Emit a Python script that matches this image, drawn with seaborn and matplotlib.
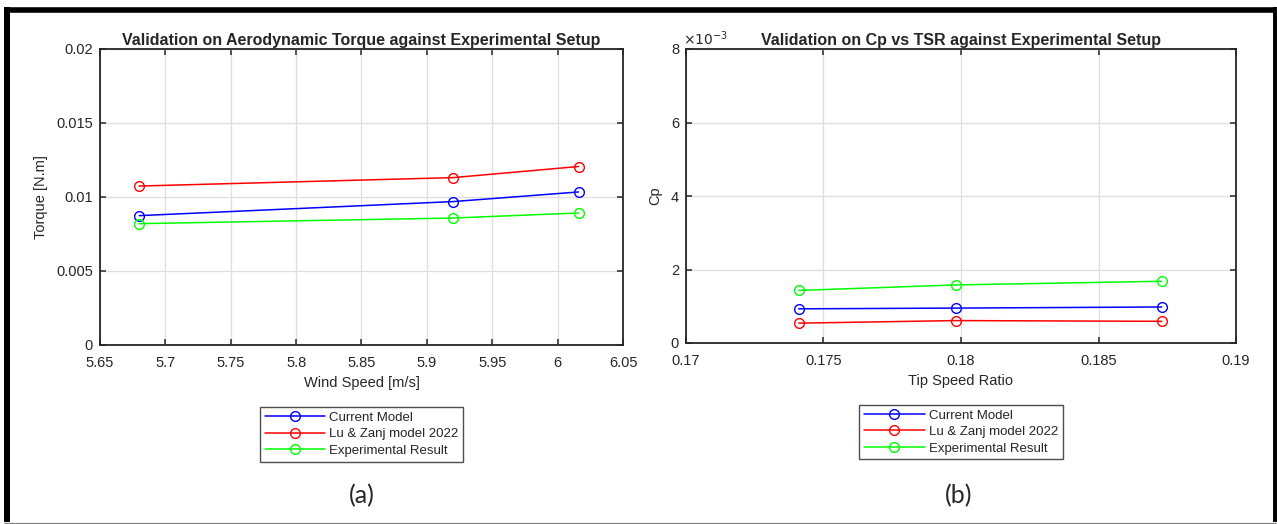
import matplotlib
matplotlib.use("Agg")
import matplotlib.pyplot as plt
import seaborn as sns
from matplotlib.lines import Line2D
from matplotlib.ticker import FuncFormatter

# ---- data ----
series_names = ["Current Model", "Lu & Zanj model 2022", "Experimental Result"]
series_colors = ["#0000ff", "#ff0000", "#00ff00"]

wind_speed = [5.68, 5.92, 6.016]
torque_current = [0.00874, 0.00969, 0.01034]
torque_luzanj = [0.01074, 0.01131, 0.01206]
torque_exp = [0.00820, 0.00858, 0.00892]

tsr = [0.1741, 0.1798, 0.1873]
cp_current = [0.93e-3, 0.95e-3, 0.98e-3]
cp_luzanj = [0.54e-3, 0.61e-3, 0.59e-3]
cp_exp = [1.43e-3, 1.58e-3, 1.68e-3]

torque_xticks = [5.65, 5.7, 5.75, 5.8, 5.85, 5.9, 5.95, 6.0, 6.05]
torque_yticks = [0, 0.005, 0.01, 0.015, 0.02]
cp_xticks = [0.17, 0.175, 0.18, 0.185, 0.19]
cp_yticks = [0, 2e-3, 4e-3, 6e-3, 8e-3]

sns.set_theme(style="ticks")
plt.rcParams["font.family"] = ["Liberation Sans", "DejaVu Sans"]
plt.rcParams["axes.edgecolor"] = "#262626"
plt.rcParams["xtick.color"] = "#262626"
plt.rcParams["ytick.color"] = "#262626"

fig = plt.figure(figsize=(12.77, 5.24), dpi=100)
ax1 = fig.add_axes([100 / 1277, 1 - 345 / 524, 523 / 1277, 296 / 524])
ax2 = fig.add_axes([686 / 1277, 1 - 343 / 524, 550 / 1277, 294 / 524])


def draw(ax, x, ys):
    for y, name, c in zip(ys, series_names, series_colors):
        sns.lineplot(x=x, y=y, ax=ax, color=c, marker="o", markersize=7,
                     mfc="none", mec=c, mew=1.0, linewidth=1.1, label=name)


def style(ax, xticks, yticks, title, xlabel, ylabel):
    ax.set_xlim(xticks[0], xticks[-1])
    ax.set_ylim(yticks[0], yticks[-1])
    ax.set_xticks(xticks)
    ax.set_yticks(yticks)
    ax.grid(True, color="#dedede", linewidth=0.9)
    ax.set_axisbelow(True)
    ax.tick_params(direction="in", length=4, width=1.1, top=True, right=True,
                   labelsize=10.5, labelcolor="#262626")
    ax.tick_params(axis="x", pad=8)
    ax.tick_params(axis="y", pad=5)
    for s in ax.spines.values():
        s.set_linewidth(1.3)
        s.set_color("#262626")
    ax.set_title(title, fontsize=11.5, fontweight="bold", pad=3)
    ax.set_xlabel(xlabel, fontsize=10.5, color="#262626", labelpad=4)
    ax.set_ylabel(ylabel, fontsize=10.5, color="#262626", labelpad=6)
    leg = ax.legend(loc="upper center", bbox_to_anchor=(0.5, -0.21),
                    borderaxespad=0, fontsize=9.5, handlelength=4.6,
                    numpoints=1, labelspacing=0.32, borderpad=0.35,
                    handletextpad=0.3, fancybox=False, framealpha=1,
                    edgecolor="#4d4d4d")
    leg.get_frame().set_linewidth(1.0)


draw(ax1, wind_speed, [torque_current, torque_luzanj, torque_exp])
style(ax1, torque_xticks, torque_yticks,
      "Validation on Aerodynamic Torque against Experimental Setup",
      "Wind Speed [m/s]", "Torque [N.m]")
ax1.xaxis.set_major_formatter(FuncFormatter(lambda v, p: f"{v:g}"))
ax1.yaxis.set_major_formatter(FuncFormatter(lambda v, p: f"{v:g}"))

draw(ax2, tsr, [cp_current, cp_luzanj, cp_exp])
style(ax2, cp_xticks, cp_yticks,
      "Validation on Cp vs TSR against Experimental Setup",
      "Tip Speed Ratio", "Cp")
ax2.xaxis.set_major_formatter(FuncFormatter(lambda v, p: f"{v:g}"))
ax2.yaxis.set_major_formatter(FuncFormatter(lambda v, p: f"{v * 1e3:g}"))
ax2.text(-0.005, 1.005, r"$\times10^{-3}$", transform=ax2.transAxes,
         ha="left", va="bottom", fontsize=10, color="#262626")

# panel labels
fig.text(362 / 1277, 1 - 496 / 524, "(a)", ha="center", va="center",
         fontsize=18, family=["Lato", "DejaVu Sans"])
fig.text(959 / 1277, 1 - 496 / 524, "(b)", ha="center", va="center",
         fontsize=18, family=["Lato", "DejaVu Sans"])

# outer frame
W, H = 1277, 524
frame = [
    ((4, 1276), (9.5, 9.5), 4.0, "black"),
    ((6.5, 6.5), (7, 522), 4.3, "black"),
    ((1274.5, 1274.5), (7, 522), 2.8, "black"),
    ((4, 1276), (522.5, 522.5), 0.9, "#808080"),
]
for xs, ys, lw, c in frame:
    fig.add_artist(Line2D([x / W for x in xs], [1 - y / H for y in ys],
                          transform=fig.transFigure, color=c, linewidth=lw,
                          solid_capstyle="butt"))

fig.savefig("out.png", dpi=100)
